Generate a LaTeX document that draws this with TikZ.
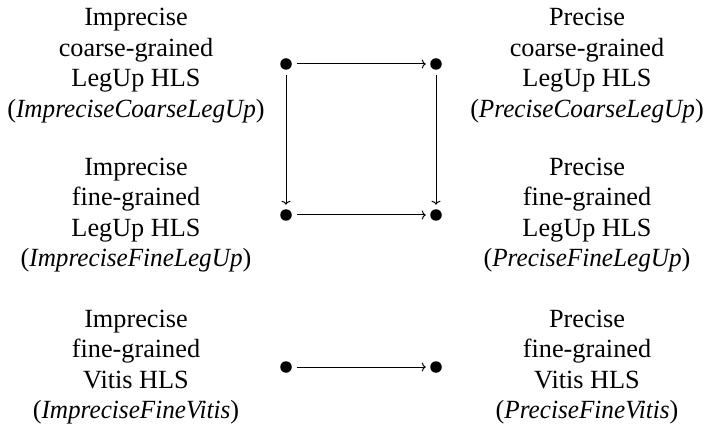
\documentclass[tikz,border=0pt]{standalone}
\usepackage{fontspec}
\setmainfont{Liberation Serif}[ItalicFeatures={FakeStretch=0.96}]
\usetikzlibrary{arrows.meta,positioning}

\begin{document}
\begin{tikzpicture}[x=0.4pt,y=-0.4pt,
    dot/.style={circle,fill,inner sep=0pt,minimum size=4.6pt},
    lbl/.style={align=center,font=\fontsize{10.5}{12.2}\selectfont},
    arr/.style={-{To[length=1.6pt,width=3.6pt]},thin,shorten <=2pt,shorten >=1.6pt}]
  \useasboundingbox (0,0) rectangle (705,432);
  % the three pairs of analyses
  \node[lbl] (icl) at (136,65.5) {Imprecise\\coarse-grained\\LegUp HLS\\(\textit{ImpreciseCoarseLegUp})};
  \node[lbl] (pcl) at (587,65.5) {Precise\\coarse-grained\\LegUp HLS\\(\textit{PreciseCoarseLegUp})};
  \node[lbl] (ifl) at (136,215) {Imprecise\\fine-grained\\LegUp HLS\\(\textit{ImpreciseFineLegUp})};
  \node[lbl] (pfl) at (587,215) {Precise\\fine-grained\\LegUp HLS\\(\textit{PreciseFineLegUp})};
  \node[lbl] (ifv) at (136,367) {Imprecise\\fine-grained\\Vitis HLS\\(\textit{ImpreciseFineVitis})};
  \node[lbl] (pfv) at (587,367) {Precise\\fine-grained\\Vitis HLS\\(\textit{PreciseFineVitis})};
  % points of the ordering
  \node[dot] (a1) at (286,64) {};
  \node[dot] (b1) at (436,64) {};
  \node[dot] (a2) at (286,215) {};
  \node[dot] (b2) at (436,215) {};
  \node[dot] (a3) at (286,367) {};
  \node[dot] (b3) at (436,367) {};
  \draw[arr] (a1) -- (b1);
  \draw[arr] (a2) -- (b2);
  \draw[arr] (a3) -- (b3);
  \draw[arr] (a1) -- (a2);
  \draw[arr] (b1) -- (b2);
\end{tikzpicture}
\end{document}
